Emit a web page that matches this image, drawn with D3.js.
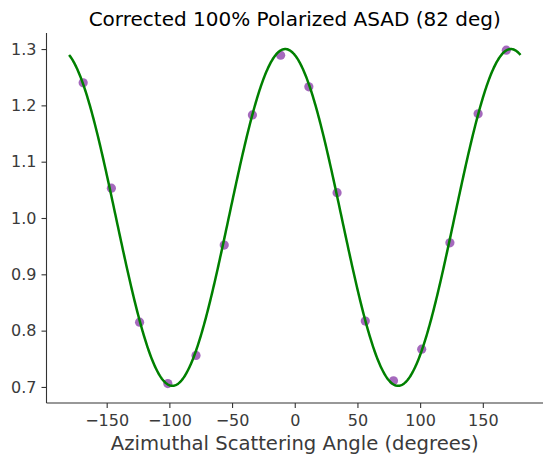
<!DOCTYPE html>
<html><head><meta charset="utf-8">
<script src="https://cdn.jsdelivr.net/npm/d3@7"></script>
<style>
body{margin:0;background:#fff;}
text{font-family:"DejaVu Sans",sans-serif;}
</style></head>
<body><div id="chart"></div>
<script>
const angles = [-168.75,-146.25,-123.75,-101.25,-78.75,-56.25,-33.75,-11.25,11.25,33.75,56.25,78.75,101.25,123.75,146.25,168.75];
const values = [1.240,1.053,0.815,0.706,0.756,0.952,1.183,1.289,1.233,1.045,0.817,0.711,0.767,0.956,1.185,1.298];
// fitted model: offset + amplitude * cos(2*(phi - phase))
const fitOffset = [1.001];
const fitAmplitude = [0.299];
const fitPhase = [-7.6];
const fitRange = [-180, 180];
const xTicks = [-150,-100,-50,0,50,100,150];
const yTicks = [0.7,0.8,0.9,1.0,1.1,1.2,1.3];

const W=552,H=465;
const m={left:46.5,right:9,top:33,bottom:62};
const svg=d3.select("#chart").append("svg").attr("width",W).attr("height",H);
const x=d3.scaleLinear().domain([-198,198]).range([m.left,W-m.right]);
const y=d3.scaleLinear().domain([0.6715,1.3285]).range([H-m.bottom,m.top]);
const textCol="#3a3a3a", axCol="#333";

const xa=svg.append("g").attr("transform",`translate(0,${H-m.bottom})`)
  .call(d3.axisBottom(x).tickValues(xTicks).tickSize(5).tickPadding(6.5).tickFormat(d=>d<0?"\u2212"+Math.abs(d):d));
const ya=svg.append("g").attr("transform",`translate(${m.left},0)`)
  .call(d3.axisLeft(y).tickValues(yTicks).tickSize(5).tickPadding(5).tickFormat(d3.format(".1f")));
[xa,ya].forEach(g=>{
  g.select(".domain").attr("stroke",axCol).attr("stroke-width",1.1);
  g.selectAll(".tick line").attr("stroke",axCol).attr("stroke-width",1.1);
  g.selectAll(".tick text").attr("fill",textCol).style("font-size","16px").style("font-family","DejaVu Sans");
});
xa.select(".domain").attr("d",`M${m.left},0H${W-m.right}`);
ya.select(".domain").attr("d",`M0,${m.top}V${H-m.bottom}`);

const curve=d3.range(0,721).map(i=>{
  const phi=fitRange[0]+(fitRange[1]-fitRange[0])*i/720;
  return [phi, fitOffset[0]+fitAmplitude[0]*Math.cos(2*(phi-fitPhase[0])*Math.PI/180)];
});

svg.append("g").selectAll("circle").data(angles).join("circle")
  .attr("cx",(d)=>x(d)).attr("cy",(d,i)=>y(values[i])).attr("r",4.6)
  .attr("fill","#9b59b6").attr("opacity",0.9);

svg.append("path").datum(curve)
  .attr("d",d3.line().x(d=>x(d[0])).y(d=>y(d[1])))
  .attr("fill","none").attr("stroke","#008000").attr("stroke-width",2.5);

svg.append("text").attr("x",(m.left+W-m.right)/2).attr("y",25.5).attr("text-anchor","middle")
  .attr("fill","#000").style("font-size","20px").text("Corrected 100% Polarized ASAD (82 deg)");
svg.append("text").attr("x",(m.left+W-m.right)/2).attr("y",450).attr("text-anchor","middle")
  .attr("fill",textCol).style("font-size","19.6px").text("Azimuthal Scattering Angle (degrees)");
</script></body></html>
